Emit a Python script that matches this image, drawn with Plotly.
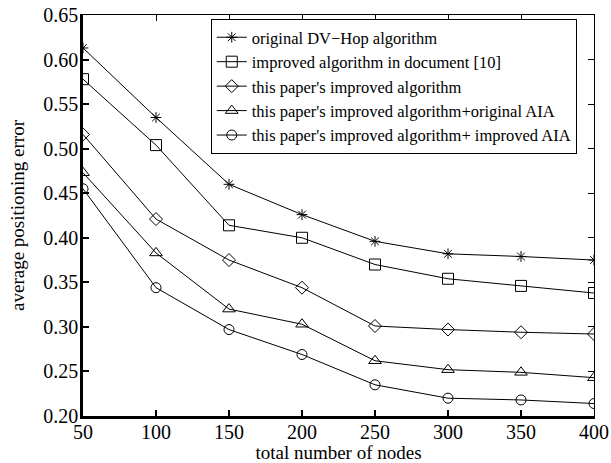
import plotly.graph_objects as go

nodes = [50, 100, 150, 200, 250, 300, 350, 400]
dvhop_original = [0.613, 0.535, 0.460, 0.426, 0.396, 0.382, 0.379, 0.375]
doc10_improved = [0.578, 0.504, 0.414, 0.400, 0.370, 0.354, 0.346, 0.338]
paper_improved = [0.516, 0.421, 0.375, 0.344, 0.301, 0.297, 0.294, 0.292]
paper_orig_aia = [0.473, 0.383, 0.320, 0.303, 0.262, 0.252, 0.249, 0.243]
paper_impr_aia = [0.455, 0.344, 0.297, 0.269, 0.235, 0.220, 0.218, 0.214]

series_names = [
    "original DV\u2212Hop algorithm",
    "improved algorithm in document [10]",
    "this paper's improved algorithm",
    "this paper's improved algorithm+original AIA",
    "this paper's improved algorithm+ improved AIA",
]
series_values = [dvhop_original, doc10_improved, paper_improved, paper_orig_aia, paper_impr_aia]
symbols = ["asterisk-open", "square-open", "diamond-open", "triangle-up-open", "circle-open"]
sizes = [9, 11, 10, 11, 10]

x_ticks = [50, 100, 150, 200, 250, 300, 350, 400]
y_ticks = [0.20, 0.25, 0.30, 0.35, 0.40, 0.45, 0.50, 0.55, 0.60, 0.65]

FONT = "Liberation Serif, Times New Roman, serif"

fig = go.Figure()
for name, vals, sym, sz in zip(series_names, series_values, symbols, sizes):
    fig.add_trace(go.Scatter(
        x=nodes, y=vals, name=name, mode="lines+markers",
        line=dict(color="black", width=1),
        marker=dict(symbol=sym, size=sz, color="black", line=dict(color="black", width=1)),
    ))

# overlay axes for the thin top/right frame with inward ticks
fig.add_trace(go.Scatter(x=[50, 400], y=[0.2, 0.65], xaxis="x2", yaxis="y2",
                         mode="markers", marker=dict(opacity=0), showlegend=False, hoverinfo="skip"))

fig.update_layout(
    width=611, height=463,
    margin=dict(l=83, r=17, t=15, b=47),
    paper_bgcolor="white", plot_bgcolor="white",
    font=dict(family=FONT, color="black", size=20),
    xaxis=dict(
        range=[50, 400], tickvals=x_ticks, ticks="inside", ticklen=6, tickwidth=2,
        tickcolor="black", showline=True, linecolor="black", linewidth=2.5,
        showgrid=False, zeroline=False, tickfont=dict(size=20), automargin=False,
        ticklabelstandoff=-4,
        title=dict(text="total number of nodes", font=dict(size=19), standoff=0),
    ),
    yaxis=dict(
        range=[0.20, 0.65], tickvals=y_ticks, tickformat=".2f", ticks="inside", ticklen=6,
        tickwidth=2, tickcolor="black", showline=True, linecolor="black", linewidth=2.5,
        showgrid=False, zeroline=False, tickfont=dict(size=20), automargin=False,
        ticklabelstandoff=-2,
        title=dict(text="average positioning error", font=dict(size=19), standoff=14),
    ),
    xaxis2=dict(range=[50, 400], overlaying="x", side="top", tickvals=x_ticks,
                ticks="inside", ticklen=6, tickcolor="black", showticklabels=False,
                showline=True, linecolor="black", linewidth=1, showgrid=False,
                zeroline=False, automargin=False),
    yaxis2=dict(range=[0.20, 0.65], overlaying="y", side="right", tickvals=y_ticks,
                ticks="inside", ticklen=6, tickcolor="black", showticklabels=False,
                showline=True, linecolor="black", linewidth=1, showgrid=False,
                zeroline=False, automargin=False),
    legend=dict(
        x=0.25, y=0.99, xanchor="left", yanchor="top",
        bgcolor="white", bordercolor="black", borderwidth=1,
        font=dict(family=FONT, size=16.5), tracegroupgap=0,
    ),
    showlegend=True,
)

fig.write_html("out.html", config={"displayModeBar": False},
               post_script="document.body.style.margin='0';")
